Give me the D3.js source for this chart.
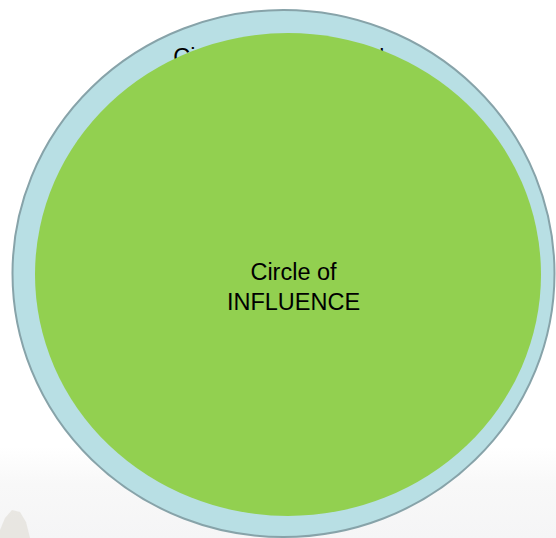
<!DOCTYPE html>
<html>
<head>
<meta charset="utf-8">
<script src="https://cdn.jsdelivr.net/npm/d3@7"></script>
<style>
  html, body { margin: 0; padding: 0; background: #fff; }
  svg { display: block; }
</style>
</head>
<body>
<div id="chart"></div>
<script>
// circles, outer to inner
const circleNames = ["concern", "influence"];
const circleLines = [["Circle of CONCERN"], ["Circle of", "INFLUENCE"]];

const width = 556, height = 538;

// layout of each ellipse (outer, inner)
const geom = {
    concern:   { cx: 283.5, cy: 273.5, rx: 271, ry: 263.5, fill: "#b8dfe4", stroke: "#87a3a9", textX: 279,   textY: 65 },
    influence: { cx: 288,   cy: 274.5, rx: 253, ry: 241.5, fill: "#92d050", stroke: "none",    textX: 293.5, textY: 279.5 }
};

var svg = d3.select("#chart")
    .append("svg")
        .attr("width", width)
        .attr("height", height);

// faint background (slide picture)
var defs = svg.append("defs");
var grad = defs.append("linearGradient")
    .attr("id", "bg")
    .attr("x1", 0).attr("y1", 0).attr("x2", 0).attr("y2", 1);
grad.append("stop").attr("offset", "0.83").attr("stop-color", "#ffffff");
grad.append("stop").attr("offset", "0.9").attr("stop-color", "#f8f8f8");
grad.append("stop").attr("offset", "1").attr("stop-color", "#f5f5f6");
svg.append("rect")
    .attr("width", width).attr("height", height)
    .attr("fill", "url(#bg)");
svg.append("path")
    .attr("d", "M0,530 L5,518 L12,510 L20,512 L26,522 L30,538 L0,538 Z")
    .attr("fill", "#e2e0d8")
    .attr("opacity", 0.7);

// one group per circle, label drawn before the next ellipse so it can be covered
var groups = svg.selectAll("g.circle")
    .data(circleNames)
    .enter()
    .append("g")
        .attr("class", "circle");

groups.append("ellipse")
    .attr("cx", function (d) { return geom[d].cx; })
    .attr("cy", function (d) { return geom[d].cy; })
    .attr("rx", function (d) { return geom[d].rx; })
    .attr("ry", function (d) { return geom[d].ry; })
    .attr("fill", function (d) { return geom[d].fill; })
    .attr("stroke", function (d) { return geom[d].stroke; })
    .attr("stroke-width", 2);

groups.append("text")
    .attr("x", function (d) { return geom[d].textX; })
    .attr("y", function (d) { return geom[d].textY; })
    .attr("text-anchor", "middle")
    .attr("font-family", "'Liberation Sans', Arial, sans-serif")
    .attr("font-size", "23.5px")
    .attr("fill", "#000")
    .selectAll("tspan")
    .data(function (d, i) { return circleLines[i].map(function (t) { return { t: t, x: geom[d].textX }; }); })
    .enter()
    .append("tspan")
        .attr("x", function (d) { return d.x; })
        .attr("dy", function (d, i) { return i === 0 ? 0 : 30; })
        .text(function (d) { return d.t; });
</script>
</body>
</html>
